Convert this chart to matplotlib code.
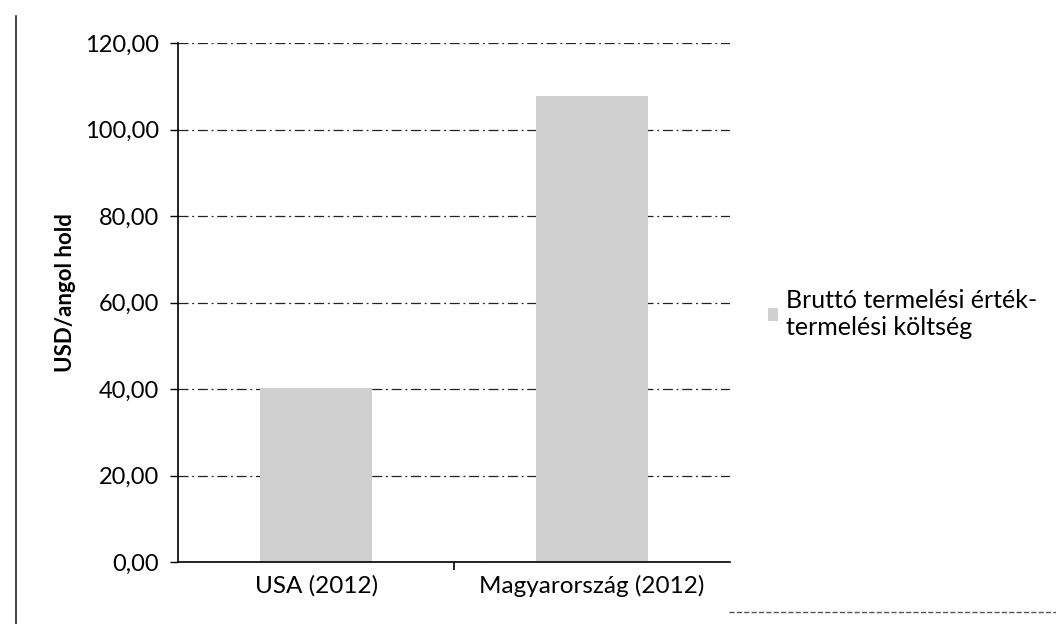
import matplotlib.pyplot as plt
from matplotlib.lines import Line2D

plt.rcParams["font.family"] = ["Lato", "DejaVu Sans"]

categories = ["USA (2012)", "Magyarország (2012)"]
values = [40.2, 107.7]
series_name = "Bruttó termelési érték-\ntermelési költség"
yticks = [0, 20, 40, 60, 80, 100, 120]

fig = plt.figure(figsize=(10.56, 6.24), dpi=100)
ax = fig.add_axes([0.169, 0.099, 0.522, 0.832])

ax.bar(range(len(categories)), values,
       width=0.405,
       color="#d0d0d0",
       edgecolor="none",
       label=series_name,
       zorder=2)

ax.set_xlim(-0.5, 1.5)
ax.set_ylim(0, 120)
ax.set_yticks(yticks)
ax.set_yticklabels([f"{v:.2f}".replace(".", ",") for v in yticks],
                   fontsize=17)
ax.set_xticks(range(len(categories)))
ax.set_xticklabels(categories, fontsize=17.5)
ax.set_xticks([0.5], minor=True)
ax.tick_params(axis="x", which="major", length=0, pad=9)
ax.tick_params(axis="x", which="minor", length=6, width=1.2)
ax.tick_params(axis="y", length=6, width=1.0, pad=8)
ax.grid(axis="y", color="#222222", linestyle=(0, (8, 3, 1.5, 3)),
        linewidth=0.9, zorder=1)
ax.set_axisbelow(True)

for side in ["top", "right"]:
    ax.spines[side].set_visible(False)
ax.spines["left"].set_linewidth(1.2)
ax.spines["bottom"].set_linewidth(1.2)

ax.set_ylabel("USD/angol hold", fontsize=16, fontweight="bold")
ax.yaxis.set_label_coords(-0.185, 0.52)

ax.legend(loc="center left",
          bbox_to_anchor=(0.706, 0.497),
          bbox_transform=fig.transFigure,
          frameon=False,
          fontsize=18,
          labelspacing=0.2,
          handlelength=0.4,
          handleheight=0.4,
          handletextpad=0.3)

# outer chart frame from the scanned page
fig.add_artist(Line2D([0.015, 0.015], [0.0, 0.975],
                      transform=fig.transFigure, color="#222222", lw=1.2))
fig.add_artist(Line2D([0.69, 1.0], [0.019, 0.019],
                      transform=fig.transFigure, color="#555555", lw=1.0,
                      linestyle="--"))

fig.savefig("out.png", dpi=100)
